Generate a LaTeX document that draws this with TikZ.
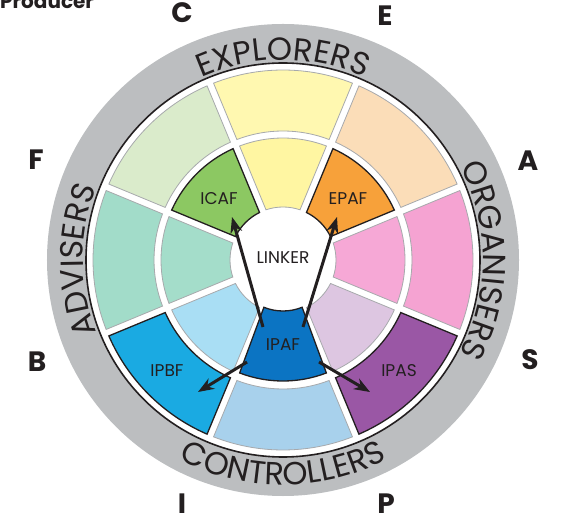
\documentclass[tikz,border=0pt]{standalone}
\usepackage{fontspec}
\setmainfont{Poppins}
\newfontfamily\ringfont{Poppins}
\usetikzlibrary{arrows.meta,decorations.text}
\definecolor{ink}{HTML}{231F20}
\definecolor{ringgray}{HTML}{BCBEC0}
\definecolor{segline}{HTML}{A7A9AC}
\definecolor{yelO}{HTML}{FFF8B0}
\definecolor{yelI}{HTML}{FFF6A2}
\definecolor{peach}{HTML}{FBDDB8}
\definecolor{epaf}{HTML}{F7A13A}
\definecolor{pinkO}{HTML}{F5A3D2}
\definecolor{pinkI}{HTML}{F6A8D6}
\definecolor{ipas}{HTML}{9A57A5}
\definecolor{lav}{HTML}{DDC6E1}
\definecolor{lblue}{HTML}{A8D1EC}
\definecolor{ipaf}{HTML}{0B74C3}
\definecolor{ipbf}{HTML}{1AAAE2}
\definecolor{skyI}{HTML}{A9DEF4}
\definecolor{tealO}{HTML}{A2DCC9}
\definecolor{tealI}{HTML}{A4DDCA}
\definecolor{paleg}{HTML}{DAEBCB}
\definecolor{icaf}{HTML}{8CC862}
\newcommand\wseg[4]{%
 \pgfmathsetmacro\wdai{asin(3.5/#2)}%
 \pgfmathsetmacro\wdao{asin(3.5/#3)}%
 \pgfmathsetmacro\wai{#1-22.5+\wdai}%
 \pgfmathsetmacro\wbi{#1+22.5-\wdai}%
 \pgfmathsetmacro\wao{#1-22.5+\wdao}%
 \pgfmathsetmacro\wbo{#1+22.5-\wdao}%
 \draw[#4] (\wai:#2pt) arc[start angle=\wai, end angle=\wbi, radius=#2pt] -- (\wbo:#3pt) arc[start angle=\wbo, end angle=\wao, radius=#3pt] -- cycle;}
\tikzset{
 plain/.style={draw=segline, line width=0.8pt},
 hilite/.style={draw=ink, line width=1.3pt},
 seglabel/.style={text=ink, font=\fontsize{17}{17}\selectfont, inner sep=0pt},
 letter/.style={text=ink, font=\bfseries\fontsize{28}{28}\selectfont, inner sep=0pt},
 ringtext/.style={decorate, decoration={text along path, text align=center, text color=ink, text={|\ringfont\fontsize{32}{32}\selectfont|#1}}},
 link/.style={draw=ink, line width=3pt, -{Stealth[length=16pt,width=12pt]}}
}
\begin{document}
\begin{tikzpicture}[x=1pt,y=1pt]
\useasboundingbox (-283,-269) rectangle (281,260);
% outer ring
\fill[ringgray] (0,0) circle[radius=236pt];
\fill[white] (0,0) circle[radius=197pt];
\draw[ink, line width=1.6pt] (0,0) circle[radius=197pt];
% outer segments
\wseg{90}{129}{190}{fill=yelO, plain}
\wseg{45}{129}{190}{fill=peach, plain}
\wseg{0}{129}{190}{fill=pinkO, plain}
\wseg{-45}{129}{190}{fill=ipas, hilite}
\wseg{-90}{129}{190}{fill=lblue, plain}
\wseg{-135}{129}{190}{fill=ipbf, hilite}
\wseg{180}{129}{190}{fill=tealO, plain}
\wseg{135}{129}{190}{fill=paleg, plain}
% inner segments
\wseg{90}{53}{122}{fill=yelI, plain}
\wseg{45}{53}{122}{fill=epaf, hilite}
\wseg{0}{53}{122}{fill=pinkI, plain}
\wseg{-45}{53}{122}{fill=lav, plain}
\wseg{-135}{53}{122}{fill=skyI, plain}
\wseg{180}{53}{122}{fill=tealI, plain}
\wseg{135}{53}{122}{fill=icaf, hilite}
\draw[fill=ipaf, hilite] (-112:51pt) arc[start angle=-112, end angle=-68, radius=51pt] -- (-69:121pt) arc[start angle=-69, end angle=-111, radius=121pt] -- cycle;
% ring texts
\path[ringtext=EXPLORERS] (135:200pt) arc[start angle=135, end angle=45, radius=200pt];
\path[ringtext=ORGANISERS] (45:200pt) arc[start angle=45, end angle=-45, radius=200pt];
\path[ringtext=ADVISERS] (225:200pt) arc[start angle=225, end angle=135, radius=200pt];
\path[ringtext=CONTROLLERS] (-135:225pt) arc[start angle=-135, end angle=-45, radius=225pt];
% segment labels
\node[seglabel] (icafl) at (-64,61) {ICAF};
\node[seglabel] (epafl) at (65,61) {EPAF};
\node[seglabel] (ipbfl) at (-116,-111) {IPBF};
\node[seglabel] (ipasl) at (116,-111) {IPAS};
\node[seglabel] (ipafl) at (0,-85) {IPAF};
\node[seglabel] (linker) at (0,2) {LINKER};
% outer letters
\node[letter] (lC) at (-101,247) {C};
\node[letter] (lE) at (102,244) {E};
\node[letter] (lF) at (-247,100) {F};
\node[letter] (lA) at (245,99) {A};
\node[letter] (lB) at (-246,-102) {B};
\node[letter] (lS) at (247,-100) {S};
\node[letter] (lI) at (-101,-244) {I};
\node[letter] (lP) at (103,-244) {P};
\node[anchor=base west, text=ink, font=\bfseries\fontsize{20}{20}\selectfont, inner sep=0pt] (prod) at (-283,251.5) {Producer};
% arrows
\coordinate (t1) at (-20,-67);
\coordinate (h1) at (-51,43);
\coordinate (t2) at (20,-67);
\coordinate (h2) at (54,43);
\coordinate (t3) at (-36,-102);
\coordinate (h3) at (-85,-132);
\coordinate (t4) at (36,-102);
\coordinate (h4) at (87,-132);
\draw[link] (t1) -- (h1);
\draw[link] (t2) -- (h2);
\draw[link] (t3) -- (h3);
\draw[link] (t4) -- (h4);
\end{tikzpicture}
\end{document}
